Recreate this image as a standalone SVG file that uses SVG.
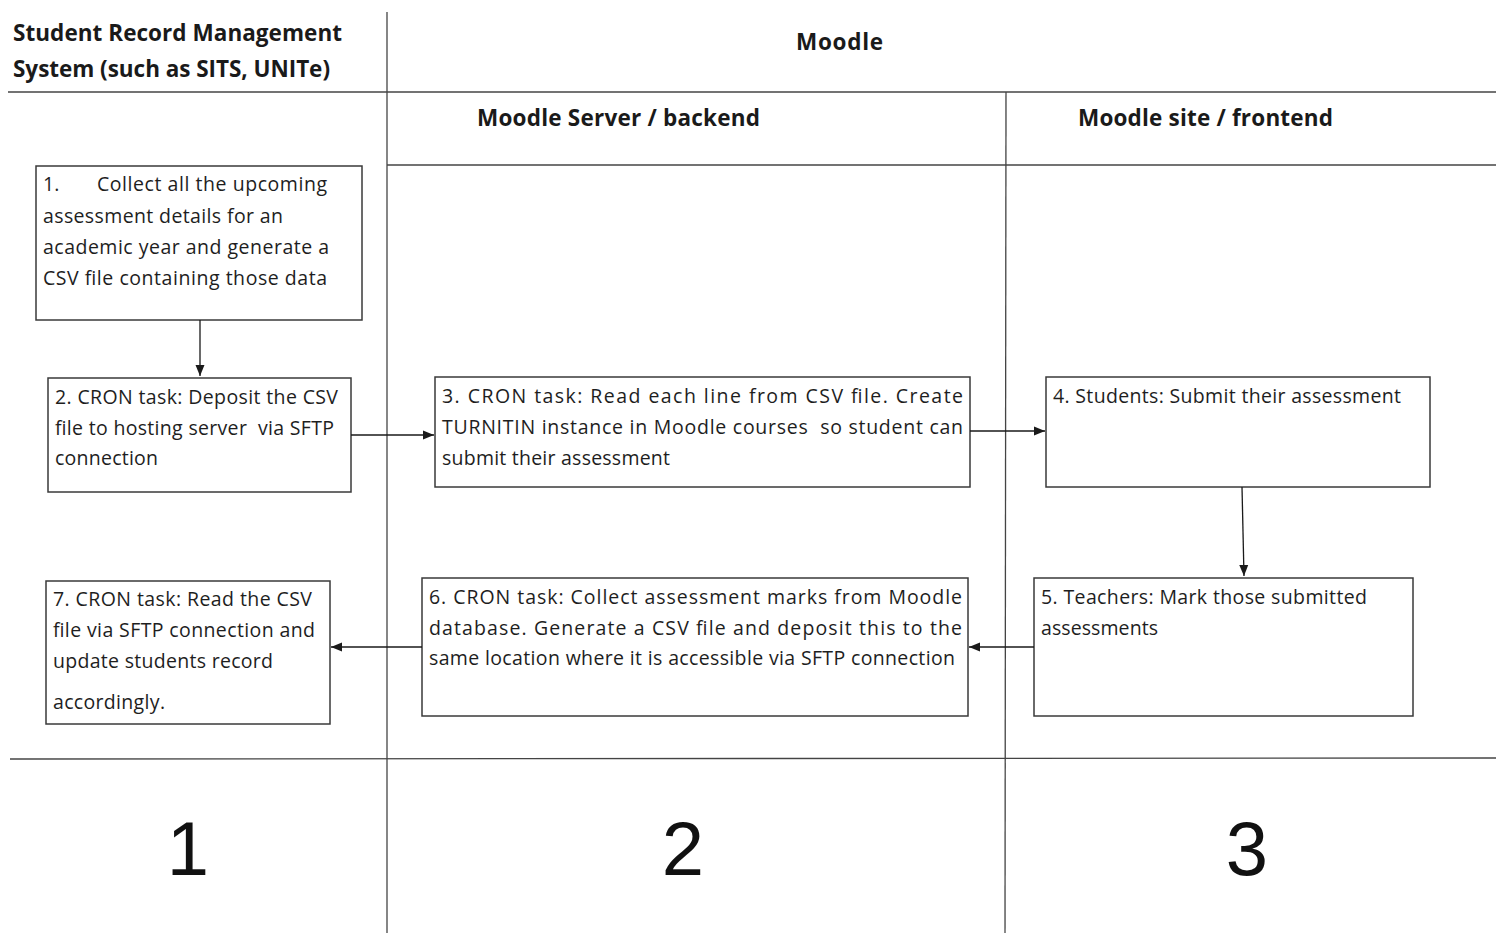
<svg xmlns="http://www.w3.org/2000/svg" width="1496" height="933" viewBox="0 0 1496 933">
<style>
.grid{stroke:#444;stroke-width:1.3;fill:none}
.box{fill:#fff;stroke:#3a3a3a;stroke-width:1.5}
.t{font-family:"Open Sans","Liberation Sans",sans-serif;font-size:19.5px;fill:#1e1e1e}
.h{font-family:"Open Sans","Liberation Sans",sans-serif;font-size:22.5px;font-weight:bold;fill:#1a1a1a}
.n{font-family:"Liberation Sans","Open Sans",sans-serif;font-size:76px;fill:#111}
.c{stroke:#1a1a1a;stroke-width:1.3;fill:none;marker-end:url(#ah)}
</style>
<defs>
<marker id="ah" markerWidth="12" markerHeight="12" refX="11" refY="6" orient="auto" markerUnits="userSpaceOnUse">
<path d="M0,1.5 L11,6 L0,10.5 Z" fill="#1a1a1a"/>
</marker>
</defs>
<rect width="1496" height="933" fill="#fff"/>
<g id="grid">
<line class="grid" x1="387" y1="12" x2="387" y2="933"/>
<line class="grid" x1="8" y1="92" x2="1496" y2="92"/>
<line class="grid" x1="1006" y1="92" x2="1005" y2="933"/>
<line class="grid" x1="387" y1="165" x2="1496" y2="165"/>
<line class="grid" x1="10" y1="759" x2="1496" y2="758"/>
</g>
<g id="headers">
<text class="h" x="13" y="41" textLength="329">Student Record Management</text>
<text class="h" x="13" y="77" textLength="317">System (such as SITS, UNITe)</text>
<text class="h" x="796" y="50" textLength="87">Moodle</text>
<text class="h" x="477" y="126" textLength="283">Moodle Server / backend</text>
<text class="h" x="1078" y="126" textLength="255">Moodle site / frontend</text>
</g>
<g id="lane-numbers">
<text class="n" x="188" y="875" text-anchor="middle">1</text>
<text class="n" x="683" y="875" text-anchor="middle">2</text>
<text class="n" x="1247" y="875" text-anchor="middle">3</text>
</g>
<g id="node1">
<rect class="box" x="36" y="166" width="326" height="154"/>
<text class="t" x="43" y="191">1.</text>
<text class="t" x="97" y="191" textLength="230">Collect all the upcoming</text>
<text class="t" x="43" y="223" textLength="240">assessment details for an</text>
<text class="t" x="43" y="254" textLength="286">academic year and generate a</text>
<text class="t" x="43" y="285" textLength="284">CSV file containing those data</text>
</g>
<g id="node2">
<rect class="box" x="48" y="378" width="303" height="114"/>
<text class="t" x="55" y="404" textLength="283">2. CRON task: Deposit the CSV</text>
<text class="t" x="55" y="435" textLength="279" xml:space="preserve">file to hosting server  via SFTP</text>
<text class="t" x="55" y="465" textLength="103">connection</text>
</g>
<g id="node3">
<rect class="box" x="435" y="377" width="535" height="110"/>
<text class="t" x="442" y="403" textLength="521">3. CRON task: Read each line from CSV file. Create</text>
<text class="t" x="442" y="434" textLength="521" xml:space="preserve">TURNITIN instance in Moodle courses  so student can</text>
<text class="t" x="442" y="465" textLength="228">submit their assessment</text>
</g>
<g id="node4">
<rect class="box" x="1046" y="377" width="384" height="110"/>
<text class="t" x="1053" y="403" textLength="348">4. Students: Submit their assessment</text>
</g>
<g id="node5">
<rect class="box" x="1034" y="578" width="379" height="138"/>
<text class="t" x="1041" y="604" textLength="326">5. Teachers: Mark those submitted</text>
<text class="t" x="1041" y="635" textLength="117">assessments</text>
</g>
<g id="node6">
<rect class="box" x="422" y="578" width="546" height="138"/>
<text class="t" x="429" y="604" textLength="533">6. CRON task: Collect assessment marks from Moodle</text>
<text class="t" x="429" y="635" textLength="533">database. Generate a CSV file and deposit this to the</text>
<text class="t" x="429" y="665" textLength="526">same location where it is accessible via SFTP connection</text>
</g>
<g id="node7">
<rect class="box" x="46" y="581" width="284" height="143"/>
<text class="t" x="53" y="606" textLength="259">7. CRON task: Read the CSV</text>
<text class="t" x="53" y="637" textLength="262">file via SFTP connection and</text>
<text class="t" x="53" y="668" textLength="220">update students record</text>
<text class="t" x="53" y="709" textLength="112">accordingly.</text>
</g>
<g id="connectors">
<line class="c" x1="200" y1="320" x2="200" y2="376"/>
<line class="c" x1="351" y1="435" x2="434" y2="435"/>
<line class="c" x1="970" y1="431" x2="1045" y2="431"/>
<line class="c" x1="1242" y1="487" x2="1244" y2="576"/>
<line class="c" x1="1034" y1="647" x2="969" y2="647"/>
<line class="c" x1="422" y1="647" x2="331" y2="647"/>
</g>
</svg>
